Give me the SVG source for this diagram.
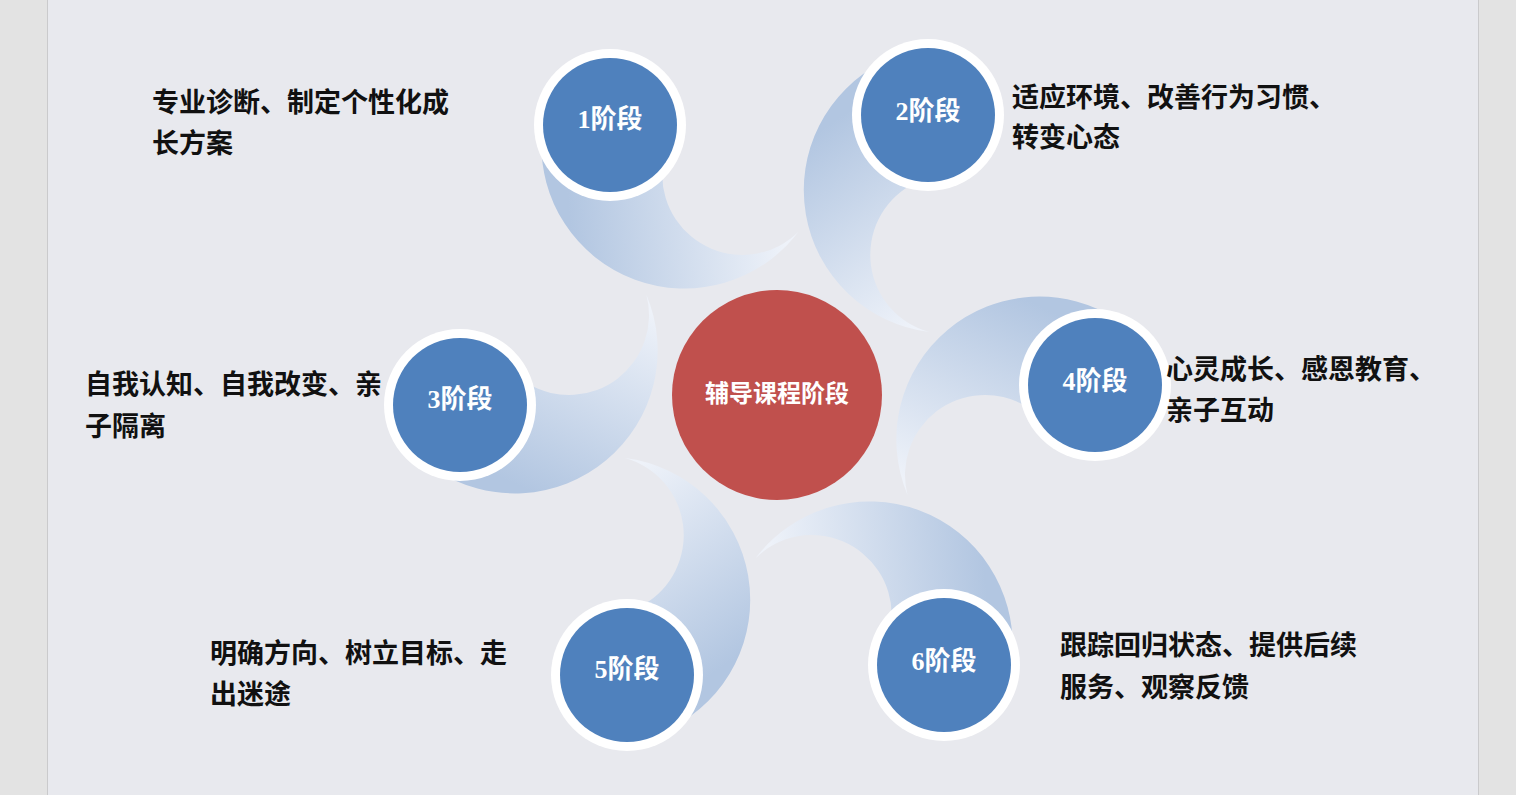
<svg xmlns="http://www.w3.org/2000/svg" width="1516" height="795" viewBox="0 0 1516 795">
<defs>
<linearGradient id="sw" gradientUnits="userSpaceOnUse" x1="1020" y1="297" x2="930" y2="490">
<stop offset="0" stop-color="#b2c6e1"/>
<stop offset="1" stop-color="#eef2f9"/>
</linearGradient>
<path id="swoosh" d="M 1117.9,320.1 A 143 143 0 0 0 907.6,495.2 A 80 80 0 0 1 1025,405.7 L 1060,395 Z" fill="url(#sw)"/>
</defs>
<style>
.ring{fill:#ffffff}
.node{fill:#4f81bd}
.lbl{font-family:"Liberation Serif","Noto Sans CJK SC",serif;font-size:26px;font-weight:bold;fill:#ffffff;text-anchor:middle}
.desc{font-family:"Liberation Serif","Noto Sans CJK SC",serif;font-size:27px;font-weight:bold;fill:#111111}
.ctr{font-family:"Noto Sans CJK SC",sans-serif;font-size:24px;font-weight:bold;fill:#ffffff;text-anchor:middle}
</style>
<rect x="0" y="0" width="1516" height="795" fill="#e3e3e3"/>
<rect x="48" y="0" width="1430" height="795" fill="#e8e9ee"/>
<line x1="47.5" y1="0" x2="47.5" y2="795" stroke="#cacacc" stroke-width="1"/>
<line x1="1478.5" y1="0" x2="1478.5" y2="795" stroke="#cacacc" stroke-width="1"/>
<g id="connectors">
<use href="#swoosh" transform="rotate(0 777 395)"/>
<use href="#swoosh" transform="rotate(60 777 395)"/>
<use href="#swoosh" transform="rotate(120 777 395)"/>
<use href="#swoosh" transform="rotate(180 777 395)"/>
<use href="#swoosh" transform="rotate(240 777 395)"/>
<use href="#swoosh" transform="rotate(300 777 395)"/>
</g>
<g id="center">
<circle cx="777" cy="395" r="105" fill="#c0504d"/>
<text class="ctr" x="777" y="402">辅导课程阶段</text>
</g>
<g id="n1">
<circle class="ring" cx="610" cy="125" r="76"/>
<circle class="node" cx="610" cy="125" r="67"/>
<text class="lbl" x="610" y="128">1阶段</text>
</g>
<g id="n2">
<circle class="ring" cx="928" cy="115" r="76"/>
<circle class="node" cx="928" cy="115" r="67"/>
<text class="lbl" x="928" y="120">2阶段</text>
</g>
<g id="n3">
<circle class="ring" cx="460" cy="405" r="76"/>
<circle class="node" cx="460" cy="405" r="67"/>
<text class="lbl" x="460" y="408">3阶段</text>
</g>
<g id="n4">
<circle class="ring" cx="1095" cy="385" r="76"/>
<circle class="node" cx="1095" cy="385" r="67"/>
<text class="lbl" x="1095" y="390">4阶段</text>
</g>
<g id="n5">
<circle class="ring" cx="627" cy="675" r="76"/>
<circle class="node" cx="627" cy="675" r="67"/>
<text class="lbl" x="627" y="678">5阶段</text>
</g>
<g id="n6">
<circle class="ring" cx="944" cy="665" r="76"/>
<circle class="node" cx="944" cy="665" r="67"/>
<text class="lbl" x="944" y="670">6阶段</text>
</g>
<g id="t1"><text class="desc" x="152" y="112">专业诊断、制定个性化成</text><text class="desc" x="152" y="152.5">长方案</text></g>
<g id="t2"><text class="desc" x="1012" y="106.5">适应环境、改善行为习惯、</text><text class="desc" x="1012" y="147">转变心态</text></g>
<g id="t3"><text class="desc" x="85" y="394">自我认知、自我改变、亲</text><text class="desc" x="85" y="436">子隔离</text></g>
<g id="t4"><text class="desc" x="1166" y="379">心灵成长、感恩教育、</text><text class="desc" x="1166" y="420">亲子互动</text></g>
<g id="t5"><text class="desc" x="210" y="663">明确方向、树立目标、走</text><text class="desc" x="210" y="704">出迷途</text></g>
<g id="t6"><text class="desc" x="1060" y="655">跟踪回归状态、提供后续</text><text class="desc" x="1060" y="697">服务、观察反馈</text></g>
</svg>
